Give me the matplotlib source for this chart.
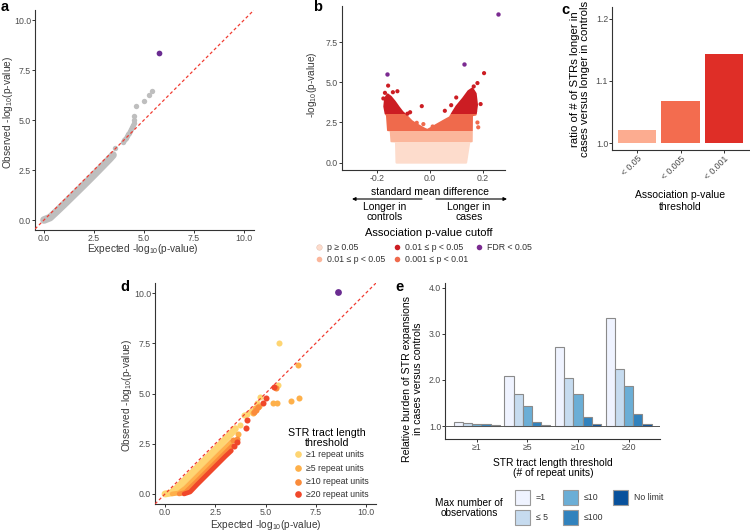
import matplotlib
matplotlib.use('Agg')
import matplotlib.pyplot as plt
from matplotlib.patches import Polygon, Rectangle

plt.rcParams['font.family'] = ['Liberation Sans', 'DejaVu Sans']
plt.rcParams['mathtext.default'] = 'regular'
plt.rcParams['axes.unicode_minus'] = False

# ---- panel a: QQ plot (dense band + sparse tail)
a_exp = [0.0, 0.3, 0.6, 1.0, 1.5, 2.0, 2.5, 3.0, 3.3, 3.45]
a_obs = [0.0, 0.12, 0.4, 0.78, 1.27, 1.76, 2.26, 2.77, 3.08, 3.25]
a_tail_exp = [3.57, 3.95, 4.0, 4.05, 4.1, 4.15, 4.2, 4.25, 4.3, 4.35, 4.4, 4.45, 4.48,
              4.48, 4.5, 4.61, 4.98, 5.27, 5.42]
a_tail_obs = [3.58, 3.92, 3.98, 4.05, 4.12, 4.2, 4.28, 4.36, 4.45, 4.55, 4.65, 4.75, 4.83,
              5.0, 5.2, 5.7, 5.95, 6.25, 6.45]
a_fdr = (5.75, 8.33)

# ---- panel b: volcano plot (outline of the dense cloud + sparse points)
vol_x = [-0.126, -0.128, -0.145, -0.148, -0.158, -0.162, -0.167, -0.172, -0.169, -0.160,
         -0.148, -0.133, -0.118, -0.104, -0.094, -0.082, -0.069, -0.052, -0.038, -0.020,
         -0.010, 0.006, 0.022, 0.038, 0.056, 0.075, 0.085, 0.100, 0.125, 0.145, 0.160,
         0.172, 0.177, 0.172, 0.158, 0.157, 0.148, 0.136]
vol_y = [0.0, 1.30, 1.32, 2.00, 2.02, 2.95, 3.05, 3.50, 4.00, 4.25, 4.10, 3.80, 3.45, 3.15,
         3.00, 2.80, 2.58, 2.40, 2.27, 2.10, 2.03, 2.17, 2.33, 2.48, 2.65, 2.82, 3.10, 3.50,
         4.00, 4.45, 4.62, 4.30, 3.60, 3.00, 2.95, 1.32, 1.28, 0.0]
vol_pts_x = [-0.158, -0.170, -0.140, -0.123, -0.075, -0.031, -0.085, 0.204, 0.179, 0.191,
             0.099, 0.080, 0.056, -0.025, 0.010, 0.030, -0.050, 0.179, 0.182, 0.165, -0.176, 0.170]
vol_pts_y = [4.80, 4.35, 4.39, 4.45, 3.14, 3.52, 3.05, 5.58, 4.96, 3.65, 4.06, 3.58, 3.23,
             2.40, 2.25, 2.20, 2.48, 2.50, 2.20, 4.75, 4.00, 3.20]
fdr_x = [-0.163, 0.127, 0.256]
fdr_y = [5.50, 6.15, 9.28]
p_cuts = [1.30, 2.0, 3.0]
p_colors = ['#fddccc', '#fbb69b', '#ef6a4c', '#cc1d23']
fdr_color = '#7b2b91'
leg_b_labels = ['p \u2265 0.05', '0.01 \u2264 p < 0.05', '0.01 \u2264 p < 0.05',
                '0.001 \u2264 p < 0.01', 'FDR < 0.05']

# ---- panel c: ratio bars
c_cats = ['< 0.05', '< 0.005', '< 0.001']
c_vals = [1.021, 1.068, 1.143]
c_colors = ['#fcac90', '#f36c4f', '#df2e27']

# ---- panel d: QQ plot by tract length
d_names = ['\u22651 repeat units', '\u22655 repeat units', '\u226510 repeat units', '\u226520 repeat units']
d_colors = ['#fed572', '#feb04a', '#fa8b3b', '#f0472a']
d_exp = [[0.0, 0.3, 0.6, 1.0, 1.5, 2.0, 2.5, 3.0, 3.3, 3.5],
         [0.35, 0.7, 1.0, 1.5, 2.0, 2.5, 3.0, 3.3],
         [0.7, 1.0, 1.5, 2.0, 2.5, 3.0, 3.35],
         [0.95, 1.25, 1.6, 2.0, 2.5, 3.0, 3.3]]
d_obs = [[0.0, 0.05, 0.3, 0.7, 1.2, 1.7, 2.2, 2.72, 3.02, 3.25],
         [0.0, 0.05, 0.3, 0.8, 1.3, 1.8, 2.3, 2.6],
         [0.0, 0.07, 0.55, 1.05, 1.55, 2.05, 2.4],
         [0.0, 0.1, 0.47, 0.87, 1.37, 1.87, 2.15]]
d_tail_exp = [[5.67, 5.6, 4.75, 4.6, 3.73, 3.95, 4.1, 4.3],
              [6.6, 6.68, 6.27, 5.39, 5.56, 4.5, 4.4, 3.65, 4.7],
              [5.5, 4.43, 4.55, 4.65, 3.4, 3.6],
              [5.44, 5.0, 4.06, 4.03, 3.6, 3.45, 4.9]]
d_tail_obs = [[7.53, 5.42, 4.82, 4.55, 3.43, 3.95, 4.0, 4.15],
              [6.43, 4.76, 4.63, 4.54, 4.54, 4.26, 4.05, 3.0, 4.4],
              [5.26, 4.1, 4.2, 4.35, 2.7, 2.75],
              [5.34, 4.76, 3.68, 3.27, 2.6, 2.4, 4.55]]
d_fdr = (8.62, 10.03)

# ---- panel e: relative burden bars
e_groups = ['\u22651', '\u22655', '\u226510', '\u226520']
e_series = ['=1', '\u2264 5', '\u226410', '\u2264100', 'No limit']
e_colors = ['#eff3ff', '#c6dbef', '#6baed6', '#3182bd', '#08519c']
e_vals = [[1.094, 2.09, 2.71, 3.35],
          [1.058, 1.69, 2.04, 2.24],
          [1.050, 1.44, 1.69, 1.86],
          [1.036, 1.094, 1.19, 1.27],
          [1.020, 1.020, 1.036, 1.04]]

W, H = 750, 531
fig = plt.figure(figsize=(7.5, 5.31), dpi=100)


def add_ax(l, t, r, b):
    return fig.add_axes([l / W, 1 - b / H, (r - l) / W, (b - t) / H])


def style(ax):
    for s in ['top', 'right']:
        ax.spines[s].set_visible(False)
    for s in ['left', 'bottom']:
        ax.spines[s].set_color('#333333')
        ax.spines[s].set_linewidth(0.8)
    ax.tick_params(length=2, width=0.7, color='#333333', labelsize=6.3,
                   labelcolor='#4d4d4d', pad=0.8)


qq_ticks = [0.0, 2.5, 5.0, 7.5, 10.0]
qq_labels = ['%.1f' % t for t in qq_ticks]

# panel a
ax = add_ax(35, 10, 254, 230)
style(ax)
ax.set_xlim(-0.45, 10.5)
ax.set_ylim(-0.5, 10.5)
ax.set_xticks(qq_ticks, qq_labels)
ax.set_yticks(qq_ticks, qq_labels)
ax.plot(a_exp, a_obs, color='#bebebe', lw=5.5, solid_capstyle='round', zorder=2)
ax.scatter(a_tail_exp, a_tail_obs, s=15, color='#bebebe', lw=0, zorder=2)
ax.scatter([a_fdr[0]], [a_fdr[1]], s=17, color='#6a2c91', lw=0, zorder=3)
ax.axline((0, 0), slope=1, color='#f03c32', lw=0.9, ls=(0, (2.5, 2)), zorder=4)

# panel b
ax = add_ax(342, 6, 505, 170)
style(ax)
ax.set_xlim(-0.332, 0.283)
ax.set_ylim(-0.465, 9.77)
ax.set_xticks([-0.2, 0.0, 0.2], ['-0.2', '0.0', '0.2'])
ax.set_yticks([0.0, 2.5, 5.0, 7.5], ['0.0', '2.5', '5.0', '7.5'])
bounds = [-1] + p_cuts + [20]
for i, col in enumerate(p_colors):
    poly = Polygon(list(zip(vol_x, vol_y)), closed=True, fc=col, ec=col, lw=1.6,
                   joinstyle='round', zorder=2)
    ax.add_patch(poly)
    clip = Rectangle((-1, bounds[i]), 2, bounds[i + 1] - bounds[i], transform=ax.transData)
    poly.set_clip_path(clip)


def band_color(y):
    for cut, col in zip(p_cuts, p_colors):
        if y < cut:
            return col
    return p_colors[-1]


ax.scatter(vol_pts_x, vol_pts_y, s=9, c=[band_color(y) for y in vol_pts_y], lw=0, zorder=3)
ax.scatter(fdr_x, fdr_y, s=10, color=fdr_color, lw=0, zorder=3)

# panel c
ax = add_ax(612, 7, 749, 150)
style(ax)
xs = range(len(c_cats))
ax.bar(xs, [v - 1 for v in c_vals], bottom=1.0, width=0.88, color=c_colors)
ax.set_xlim(-0.57, 2.57)
ax.set_ylim(0.989, 1.219)
ax.set_yticks([1.0, 1.1, 1.2], ['1.0', '1.1', '1.2'])
ax.set_xticks(list(xs))
ax.set_xticklabels(c_cats, rotation=45, ha='right', va='top', rotation_mode='anchor')

# panel d
ax = add_ax(155, 283, 376, 504)
style(ax)
ax.set_xlim(-0.5, 10.5)
ax.set_ylim(-0.5, 10.5)
ax.set_xticks(qq_ticks, qq_labels)
ax.set_yticks(qq_ticks, qq_labels)
widths = [5.0, 3.4, 3.4, 3.4]
for ex, ob, col, lw in zip(d_exp, d_obs, d_colors, widths):
    ax.plot(ex, ob, color=col, lw=lw, solid_capstyle='round', zorder=2)
for ex, ob, col in zip(d_tail_exp, d_tail_obs, d_colors):
    ax.scatter(ex, ob, s=19, color=col, lw=0, zorder=3)
ax.scatter([d_fdr[0]], [d_fdr[1]], s=24, color='#6a2c91', lw=0, zorder=3)
ax.axline((0, 0), slope=1, color='#f03c32', lw=0.9, ls=(0, (2.5, 2)), zorder=4)

# panel e
ax = add_ax(445, 283, 660, 439)
style(ax)
bw = 0.182
for j, (vals, col) in enumerate(zip(e_vals, e_colors)):
    pos = [i + (j - 2) * bw for i in range(len(e_groups))]
    ax.bar(pos, [v - 1 for v in vals], bottom=1.0, width=bw, color=col,
           edgecolor='#8a8a8a', lw=0.8, zorder=2)
ax.axhline(1.0, color='#555555', lw=0.7, zorder=3)
ax.set_xlim(-0.63, 3.62)
ax.set_ylim(0.72, 4.1)
ax.set_xticks(range(len(e_groups)), e_groups)
ax.set_yticks([1.0, 2.0, 3.0, 4.0], ['1.0', '2.0', '3.0', '4.0'])

# ---- overlay for titles, legends and annotations (pixel coordinates)
ov = fig.add_axes([0, 0, 1, 1])
ov.set_xlim(0, W)
ov.set_ylim(H, 0)
ov.axis('off')

for letter, x, y in [('a', 5, 7), ('b', 318, 7), ('c', 565, 10), ('d', 125, 287), ('e', 400, 287)]:
    ov.text(x, y, letter, fontsize=10.5, fontweight='bold', ha='center', va='center')

grey_t = '#3a3a3a'
# a titles
ov.text(8, 112, 'Observed -log$_{10}$(p-value)', rotation=90, ha='center', va='center',
        fontsize=7.3, color=grey_t)
ov.text(143, 249, 'Expected -log$_{10}$(p-value)', ha='center', va='center', fontsize=7.3,
        color=grey_t)
# b titles
ov.text(312, 85, '-log$_{10}$(p-value)', rotation=90, ha='center', va='center', fontsize=7.3,
        color=grey_t)
ov.text(430, 192, 'standard mean difference', ha='center', va='center', fontsize=7.5)
ov.annotate('', xy=(352, 199), xytext=(422, 199),
            arrowprops=dict(arrowstyle='-|>', color='black', lw=0.8, mutation_scale=5,
                            shrinkA=0, shrinkB=0))
ov.annotate('', xy=(507, 199), xytext=(436, 199),
            arrowprops=dict(arrowstyle='-|>', color='black', lw=0.8, mutation_scale=5,
                            shrinkA=0, shrinkB=0))
ov.text(385, 212, 'Longer in\ncontrols', ha='center', va='center', fontsize=7.5, linespacing=1.0)
ov.text(469, 212, 'Longer in\ncases', ha='center', va='center', fontsize=7.5, linespacing=1.0)
ov.text(429, 233, 'Association p-value cutoff', ha='center', va='center', fontsize=8)
leg_b_pos = [(319, 247), (319, 259), (397, 247), (397, 259), (479, 247)]
leg_b_cols = [p_colors[0], p_colors[1], p_colors[3], p_colors[2], fdr_color]
for (x, y), col, lab in zip(leg_b_pos, leg_b_cols, leg_b_labels):
    ov.scatter([x], [y], s=16, color=col, lw=0.3 if col == p_colors[0] else 0,
               edgecolor='#e0b8a8')
    ov.text(x + 8, y, lab, ha='left', va='center', fontsize=6.3, color='#333333')

# c titles
ov.text(579.5, 79, 'ratio of # of STRs longer in\ncases versus longer in controls', rotation=90,
        ha='center', va='center', fontsize=8.2, linespacing=1.0)
ov.text(680, 201, 'Association p-value\nthreshold', ha='center', va='center', fontsize=7.5,
        linespacing=1.15)

# d titles + legend
ov.text(127, 395, 'Observed -log$_{10}$(p-value)', rotation=90, ha='center', va='center',
        fontsize=7.3, color=grey_t)
ov.text(266, 525, 'Expected -log$_{10}$(p-value)', ha='center', va='center', fontsize=7.3,
        color=grey_t)
ov.text(327, 438, 'STR tract length\nthreshold', ha='center', va='center', fontsize=7.7,
        linespacing=1.0)
for y, col, lab in zip([454.3, 468.3, 481.7, 494.3], d_colors, d_names):
    ov.scatter([298], [y], s=23, color=col, lw=0)
    ov.text(306, y, lab, ha='left', va='center', fontsize=6.3, color='#333333')

# e titles + legend
ov.text(412.5, 379, 'Relative burden of STR expansions\nin cases versus controls', rotation=90,
        ha='center', va='center', fontsize=7.6, linespacing=1.05)
ov.text(553, 467.5, 'STR tract length threshold\n(# of repeat units)', ha='center', va='center',
        fontsize=7.4, linespacing=1.0)
ov.text(469, 508, 'Max number of\nobservations', ha='center', va='center', fontsize=7.3,
        linespacing=1.1)
leg_e_pos = [(515, 490), (515, 510), (563, 490), (563, 510), (613, 490)]
for (x, y), col, lab in zip(leg_e_pos, e_colors, e_series):
    ov.add_patch(Rectangle((x, y), 15, 15, fc=col, ec='#9a9a9a', lw=0.8))
    ov.text(x + 21, y + 7.5, lab, ha='left', va='center', fontsize=6.3, color='#333333')

fig.savefig('out.png', dpi=100)
